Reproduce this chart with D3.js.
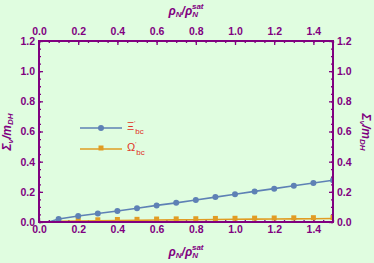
<!DOCTYPE html>
<meta charset="utf-8">
<style>
    body { margin: 0; background: #e0fde0; }
    svg { display: block; font-family: "Liberation Sans", Arial, sans-serif; font-weight: bold; }
    .frame { fill: none; stroke: #800080; stroke-width: 2; }
    .tick line { stroke: #800080; stroke-width: 1.3; }
    .tick text { fill: #800080; font-size: 10.5px; font-weight: bold; }
    .lab { fill: #800080; font-size: 12px; font-style: italic; }
    .leg { fill: #e0301e; font-size: 10px; font-weight: normal; }
</style>
<body></body>
<script src="https://d3js.org/d3.v7.min.js"></script>
<script>
// data
var rho = [0.1, 0.2, 0.3, 0.4, 0.5, 0.6, 0.7, 0.8, 0.9, 1.0, 1.1, 1.2, 1.3, 1.4, 1.5];
var xi = [0.02, 0.04, 0.056, 0.073, 0.091, 0.11, 0.127, 0.146, 0.165, 0.184, 0.203, 0.221, 0.24, 0.259, 0.277];
var omega = [0.004, 0.006, 0.008, 0.01, 0.011, 0.013, 0.014, 0.015, 0.017, 0.018, 0.019, 0.02, 0.021, 0.022, 0.023];
var lineStart = [0.05, 0.0];   // both curves start here
var xTicks = [0.0, 0.2, 0.4, 0.6, 0.8, 1.0, 1.2, 1.4];
var yTicks = [0.0, 0.2, 0.4, 0.6, 0.8, 1.0, 1.2];
var names = ["\u039e", "\u03a9"];

var W = 374, H = 263;
var margin = {top: 41, right: 41, bottom: 41, left: 39};
var width = W - margin.left - margin.right,
    height = H - margin.top - margin.bottom;

var svg = d3.select("body").append("svg")
    .attr("width", W)
    .attr("height", H);

var g = svg.append("g")
    .attr("transform", "translate(" + margin.left + "," + margin.top + ")");

var x = d3.scaleLinear().domain([0, 1.5]).range([0, width]);
var y = d3.scaleLinear().domain([0, 1.2]).range([height, 0]);

var xMinor = d3.range(0, 1.5001, 0.05);
var yMinor = d3.range(0, 1.2001, 0.05);

function fmt(d) { return d.toFixed(1); }

// axes: ticks pointing inward, minor ticks short
function addAxis(axisFn, scale, ticks, minor, tr, pad) {
    g.append("g").attr("transform", tr)
        .call(axisFn(scale).tickValues(minor).tickSize(-2).tickFormat(""))
        .call(a => a.select(".domain").remove());
    g.append("g").attr("transform", tr)
        .call(axisFn(scale).tickValues(ticks).tickSize(-4).tickPadding(pad).tickFormat(fmt))
        .call(a => a.select(".domain").remove());
}
addAxis(d3.axisBottom, x, xTicks, xMinor, "translate(0," + height + ")", 4);
addAxis(d3.axisTop, x, xTicks, xMinor, "translate(0,0)", 6);
addAxis(d3.axisLeft, y, yTicks, yMinor, "translate(0,0)", 4);
addAxis(d3.axisRight, y, yTicks, yMinor, "translate(" + width + ",0)", 4);

// clip for data
svg.append("clipPath").attr("id", "clip")
    .append("rect").attr("width", width).attr("height", height + 1);

var plot = g.append("g").attr("clip-path", "url(#clip)");

var line = d3.line().x(d => x(d[0])).y(d => y(d[1]));

var xiPts = [lineStart].concat(rho.map((r, i) => [r, xi[i]]));
var omPts = [lineStart].concat(rho.map((r, i) => [r, omega[i]]));

plot.append("path").datum(omPts)
    .attr("d", line).attr("fill", "none")
    .attr("stroke", "#e19c24").attr("stroke-width", 1.6);
plot.selectAll(".sq").data(omPts.slice(1)).enter().append("rect")
    .attr("x", d => x(d[0]) - 2.5).attr("y", d => y(d[1]) - 3.5)
    .attr("width", 5).attr("height", 5)
    .attr("fill", "#e19c24");

plot.append("path").datum(xiPts)
    .attr("d", line).attr("fill", "none")
    .attr("stroke", "#5e81b5").attr("stroke-width", 1.6);
plot.selectAll(".dot").data(xiPts.slice(1)).enter().append("circle")
    .attr("cx", d => x(d[0])).attr("cy", d => y(d[1]))
    .attr("r", 3).attr("fill", "#5e81b5");

// frame
g.append("rect").attr("class", "frame")
    .attr("width", width).attr("height", height);

// axis labels
function rhoLabel(sel) {
    sel.append("tspan").text("\u03c1");
    sel.append("tspan").attr("font-size", "8px").attr("dy", 2).text("N");
    sel.append("tspan").attr("dy", -2).text("/\u03c1");
    sel.append("tspan").attr("font-size", "8px").attr("dy", 2).text("N");
    sel.append("tspan").attr("font-size", "8px").attr("dx", -6).attr("dy", -8).text("sat");
}
svg.append("text").attr("class", "lab").attr("x", 186).attr("y", 256)
    .attr("text-anchor", "middle").call(rhoLabel);
svg.append("text").attr("class", "lab").attr("x", 186).attr("y", 15)
    .attr("text-anchor", "middle").call(rhoLabel);

function sigLabel(sel) {
    sel.append("tspan").text("\u03a3");
    sel.append("tspan").attr("font-size", "8px").attr("dy", 2).text("v");
    sel.append("tspan").attr("dy", -2).text("/m");
    sel.append("tspan").attr("font-size", "8px").attr("dy", 2).text("DH");
}
svg.append("text").attr("class", "lab")
    .attr("transform", "translate(11,132) rotate(-90)")
    .attr("text-anchor", "middle").call(sigLabel);
svg.append("text").attr("class", "lab")
    .attr("transform", "translate(362,132) rotate(90)")
    .attr("text-anchor", "middle").call(sigLabel);

// legend
var legColors = ["#5e81b5", "#e19c24"];
var leg = svg.append("g").attr("transform", "translate(80,128)");
names.forEach(function(n, i) {
    var row = leg.append("g").attr("transform", "translate(0," + (i * 21) + ")");
    row.append("line").attr("x1", 0).attr("x2", 42)
        .attr("stroke", legColors[i]).attr("stroke-width", 1.6);
    if (i === 0) row.append("circle").attr("cx", 21).attr("r", 3).attr("fill", legColors[i]);
    else row.append("rect").attr("x", 18.5).attr("y", -3.5).attr("width", 5).attr("height", 5).attr("fill", legColors[i]);
    var t = row.append("text").attr("class", "leg").attr("x", 47).attr("y", 2);
    t.append("tspan").attr("font-size", "11px").text(n);
    t.append("tspan").attr("font-size", "6px").attr("dy", -5).text("\u2032");
    t.append("tspan").attr("font-size", "8px").attr("dy", 9).text("bc");
});
</script>
